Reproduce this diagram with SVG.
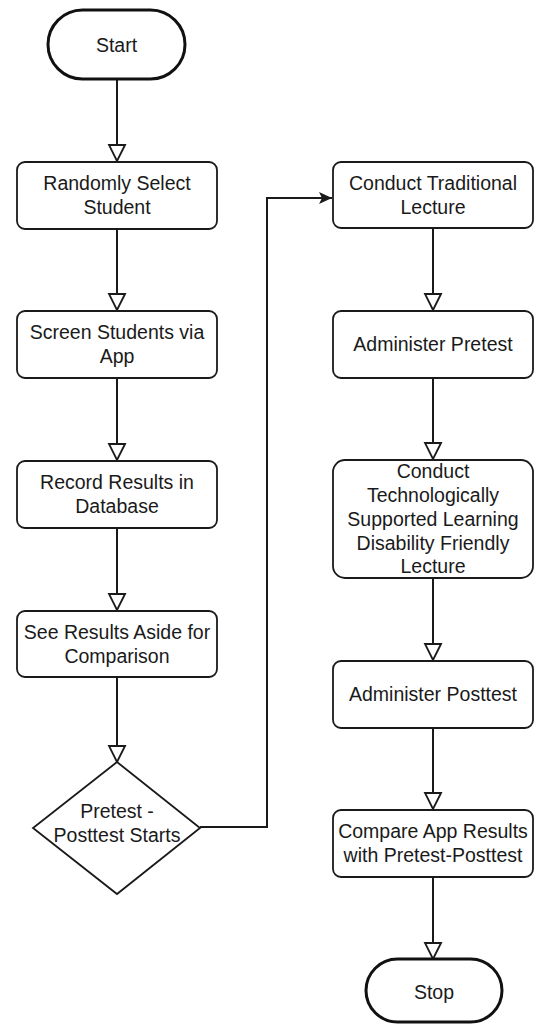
<svg xmlns="http://www.w3.org/2000/svg" width="536" height="1026" viewBox="0 0 536 1026">
<style>
.box{fill:#fff;stroke:#1a1a1a;stroke-width:1.8}
.term{fill:#fff;stroke:#111;stroke-width:3}
.lbl{font-family:"Liberation Sans",Arial,sans-serif;font-size:19.5px;fill:#1a1a1a;text-anchor:middle}
.conn{fill:none;stroke:#1a1a1a;stroke-width:2}
</style>
<defs>
<marker id="open" markerUnits="userSpaceOnUse" markerWidth="20" markerHeight="20" viewBox="-18 -10 20 20" refX="0" refY="0" orient="auto">
<path d="M-16,-8 L0,0 L-16,8 Z" fill="#fff" stroke="#1a1a1a" stroke-width="1.8"/>
</marker>
<marker id="filled" markerUnits="userSpaceOnUse" markerWidth="16" markerHeight="14" viewBox="-14 -7 16 14" refX="0" refY="0" orient="auto">
<path d="M-13,-6 L0,0 L-13,6 L-10,0 Z" fill="#1a1a1a"/>
</marker>
</defs>
<g id="connectors">
<line class="conn" x1="117" y1="79" x2="117" y2="161" marker-end="url(#open)"/>
<line class="conn" x1="117" y1="229" x2="117" y2="310" marker-end="url(#open)"/>
<line class="conn" x1="117" y1="378" x2="117" y2="460" marker-end="url(#open)"/>
<line class="conn" x1="117" y1="528" x2="117" y2="610" marker-end="url(#open)"/>
<line class="conn" x1="117" y1="677" x2="117" y2="762" marker-end="url(#open)"/>
<path class="conn" d="M200,827 H267 V198 H332" marker-end="url(#filled)"/>
<line class="conn" x1="433" y1="228" x2="433" y2="310" marker-end="url(#open)"/>
<line class="conn" x1="433" y1="378" x2="433" y2="459" marker-end="url(#open)"/>
<line class="conn" x1="433" y1="578" x2="433" y2="660" marker-end="url(#open)"/>
<line class="conn" x1="433" y1="728" x2="433" y2="809" marker-end="url(#open)"/>
<line class="conn" x1="433" y1="877" x2="433" y2="959" marker-end="url(#open)"/>
</g>
<g id="start">
<rect class="term" x="48" y="10" width="137" height="69" rx="34.5"/>
<text class="lbl" x="116.5" y="52">Start</text>
</g>
<g id="randomly-select">
<rect class="box" x="17" y="162" width="200" height="67" rx="8"/>
<text class="lbl" x="117" y="190">Randomly Select</text>
<text class="lbl" x="117" y="213.5">Student</text>
</g>
<g id="screen-students">
<rect class="box" x="17" y="311" width="200" height="67" rx="8"/>
<text class="lbl" x="117" y="339">Screen Students via</text>
<text class="lbl" x="117" y="362.5">App</text>
</g>
<g id="record-results">
<rect class="box" x="17" y="461" width="200" height="67" rx="8"/>
<text class="lbl" x="117" y="489">Record Results in</text>
<text class="lbl" x="117" y="512.5">Database</text>
</g>
<g id="see-results">
<rect class="box" x="17" y="611" width="200" height="66" rx="8"/>
<text class="lbl" x="117" y="639">See Results Aside for</text>
<text class="lbl" x="117" y="662.5">Comparison</text>
</g>
<g id="pretest-posttest-starts">
<polygon class="box" points="117,762 200,828 117,894 33,828"/>
<text class="lbl" x="117" y="818">Pretest -</text>
<text class="lbl" x="117" y="842">Posttest Starts</text>
</g>
<g id="conduct-traditional">
<rect class="box" x="333" y="162" width="200" height="66" rx="8"/>
<text class="lbl" x="433" y="190">Conduct Traditional</text>
<text class="lbl" x="433" y="213.5">Lecture</text>
</g>
<g id="administer-pretest">
<rect class="box" x="333" y="311" width="200" height="67" rx="8"/>
<text class="lbl" x="433" y="351">Administer Pretest</text>
</g>
<g id="conduct-tech">
<rect class="box" x="333" y="460" width="200" height="118" rx="12"/>
<text class="lbl" x="433" y="478">Conduct</text>
<text class="lbl" x="433" y="502">Technologically</text>
<text class="lbl" x="433" y="526">Supported Learning</text>
<text class="lbl" x="433" y="550">Disability Friendly</text>
<text class="lbl" x="433" y="573">Lecture</text>
</g>
<g id="administer-posttest">
<rect class="box" x="333" y="661" width="200" height="67" rx="8"/>
<text class="lbl" x="433" y="701">Administer Posttest</text>
</g>
<g id="compare">
<rect class="box" x="333" y="810" width="200" height="67" rx="8"/>
<text class="lbl" x="433" y="838">Compare App Results</text>
<text class="lbl" x="433" y="861.5">with Pretest-Posttest</text>
</g>
<g id="stop">
<rect class="term" x="366" y="959" width="136" height="63" rx="31.5"/>
<text class="lbl" x="434" y="999">Stop</text>
</g>
</svg>
